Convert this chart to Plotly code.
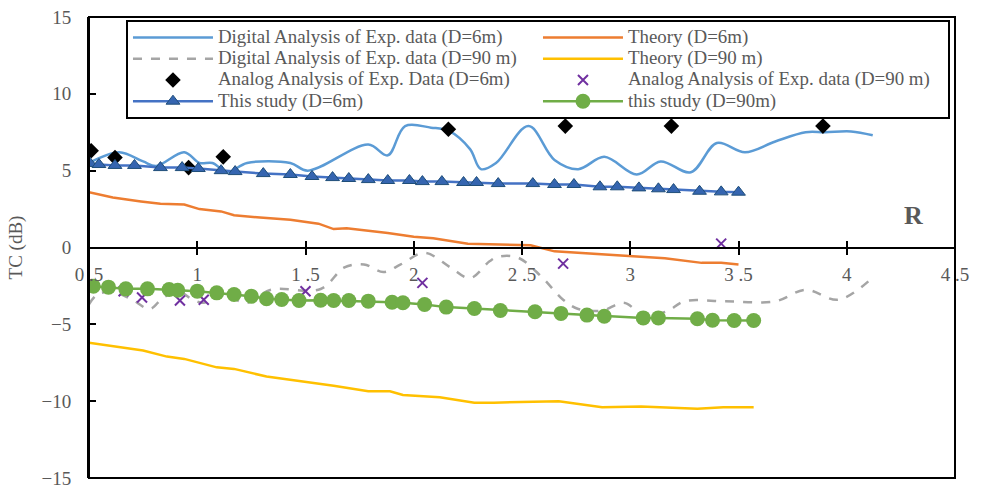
import plotly.graph_objects as go

# ---- data ----
dig6_x = [0.50, 0.64, 0.75, 0.81, 0.94, 1.01, 1.07, 1.14, 1.23, 1.43, 1.51, 1.79, 1.88, 1.96, 2.08, 2.16,
          2.26, 2.31, 2.38, 2.53, 2.65, 2.76, 2.88, 3.03, 3.14, 3.28, 3.40, 3.53, 3.67, 3.81, 3.90, 4.02, 4.12]
dig6_y = [5.5, 6.2, 5.6, 5.3, 6.2, 5.5, 5.5, 4.9, 5.5, 5.5, 5.0, 6.7, 6.0, 7.9, 7.8, 7.6,
          6.4, 5.1, 5.5, 7.9, 5.7, 5.1, 5.9, 4.75, 5.6, 4.9, 6.8, 6.2, 6.9, 7.5, 7.5, 7.55, 7.3]

th6_x = [0.50, 0.61, 0.74, 0.83, 0.94, 1.01, 1.11, 1.17, 1.29, 1.43, 1.56, 1.63, 1.69, 1.88, 2.00, 2.09,
         2.25, 2.38, 2.54, 2.65, 2.87, 3.00, 3.16, 3.33, 3.42, 3.50]
th6_y = [3.6, 3.25, 3.0, 2.85, 2.8, 2.5, 2.35, 2.1, 1.95, 1.8, 1.55, 1.2, 1.25, 0.95, 0.7, 0.6,
         0.25, 0.2, 0.15, -0.25, -0.45, -0.55, -0.7, -1.0, -1.0, -1.1]

dig90_x = [0.50, 0.54, 0.61, 0.70, 0.78, 0.84, 0.91, 0.98, 1.03, 1.11, 1.23, 1.34, 1.57, 1.68, 1.77, 1.86,
           1.94, 2.05, 2.17, 2.26, 2.35, 2.39, 2.48, 2.59, 2.69, 2.76, 2.87, 2.97, 3.06, 3.17, 3.25, 3.44,
           3.67, 3.81, 3.96, 4.10]
dig90_y = [-3.7, -3.05, -2.9, -3.4, -4.0, -3.3, -2.85, -3.4, -3.6, -3.05, -3.6, -2.75, -2.7, -1.3, -1.1, -1.6,
           -1.1, -0.35, -1.3, -2.0, -0.9, -0.6, -0.65, -1.9, -3.4, -4.0, -4.1, -3.6, -4.35, -4.15, -3.5, -3.5,
           -3.5, -2.75, -3.4, -2.2]

th90_x = [0.50, 0.61, 0.75, 0.86, 0.94, 1.09, 1.17, 1.32, 1.40, 1.51, 1.63, 1.79, 1.89, 1.95, 2.12, 2.28,
          2.37, 2.67, 2.87, 3.05, 3.31, 3.43, 3.57]
th90_y = [-6.2, -6.4, -6.7, -7.1, -7.25, -7.8, -7.9, -8.4, -8.55, -8.8, -9.0, -9.35, -9.35, -9.6, -9.75, -10.1,
          -10.1, -10.0, -10.4, -10.35, -10.5, -10.4, -10.4]

an6_x = [0.51, 0.62, 0.96, 1.12, 2.16, 2.70, 3.19, 3.89]
an6_y = [6.3, 5.85, 5.2, 5.9, 7.7, 7.9, 7.9, 7.9]

an90_x = [0.66, 0.745, 0.92, 1.03, 1.50, 2.04, 2.69, 3.42]
an90_y = [-2.85, -3.25, -3.45, -3.4, -2.85, -2.3, -1.05, 0.25]

st6_x = [0.505, 0.546, 0.62, 0.71, 0.83, 0.93, 1.005, 1.11, 1.175, 1.305, 1.43, 1.53, 1.625, 1.70, 1.79,
         1.88, 1.98, 2.04, 2.13, 2.23, 2.29, 2.39, 2.55, 2.65, 2.74, 2.86, 2.94, 3.04, 3.13, 3.20, 3.32,
         3.42, 3.50]
st6_y = [5.47, 5.40, 5.34, 5.34, 5.2, 5.2, 5.14, 5.0, 4.94, 4.81, 4.75, 4.62, 4.55, 4.49, 4.42,
         4.36, 4.36, 4.29, 4.29, 4.23, 4.23, 4.16, 4.16, 4.1, 4.1, 3.95, 3.95, 3.88, 3.82, 3.77, 3.66,
         3.62, 3.6]

st90_x = [0.52, 0.59, 0.67, 0.77, 0.87, 0.91, 1.0, 1.09, 1.17, 1.25, 1.32, 1.39, 1.47, 1.57, 1.63, 1.70,
          1.79, 1.90, 1.95, 2.05, 2.15, 2.28, 2.40, 2.56, 2.68, 2.80, 2.88, 3.06, 3.13, 3.31, 3.38, 3.48, 3.57]
st90_y = [-2.52, -2.58, -2.69, -2.69, -2.73, -2.78, -2.84, -2.95, -3.06, -3.17, -3.34, -3.38, -3.45, -3.43,
          -3.45, -3.45, -3.49, -3.56, -3.6, -3.71, -3.88, -3.97, -4.1, -4.18, -4.29, -4.4, -4.47, -4.58,
          -4.58, -4.64, -4.73, -4.75, -4.75]

x_tickvals = [0.5, 1, 1.5, 2, 2.5, 3, 3.5, 4, 4.5]
x_ticktext = ["0 .5", "1", "1 .5", "2", "2 .5", "3", "3 .5", "4", "4 .5"]
y_tickvals = [-15, -10, -5, 0, 5, 10, 15]

FONT = "Liberation Serif"
GRAY = "#595959"


def lg(name):
    return '<span style="font-size:18.9px">' + name + '</span>'


fig = go.Figure()
fig.add_trace(go.Scatter(x=dig6_x, y=dig6_y, mode="lines", line=dict(color="#5B9BD5", width=2.5, shape="spline"),
                         name=lg("Digital Analysis of Exp. data (D=6m)")))
fig.add_trace(go.Scatter(x=th6_x, y=th6_y, mode="lines", line=dict(color="#ED7D31", width=2.5),
                         name=lg("Theory (D=6m)")))
fig.add_trace(go.Scatter(x=dig90_x, y=dig90_y, mode="lines",
                         line=dict(color="#A5A5A5", width=2.5, dash="dash", shape="spline"),
                         name=lg("Digital Analysis of Exp. data (D=90 m)")))
fig.add_trace(go.Scatter(x=th90_x, y=th90_y, mode="lines", line=dict(color="#FFC000", width=2.5),
                         name=lg("Theory (D=90 m)")))
fig.add_trace(go.Scatter(x=an6_x, y=an6_y, mode="markers",
                         marker=dict(symbol="diamond", size=12, color="black"),
                         name=lg("Analog Analysis of Exp. Data (D=6m)")))
fig.add_trace(go.Scatter(x=an90_x, y=an90_y, mode="markers",
                         marker=dict(symbol="x-thin", size=10, line=dict(color="#7030A0", width=2), color="#7030A0"),
                         name=lg("Analog Analysis of Exp. data (D=90 m)")))
fig.add_trace(go.Scatter(x=st6_x, y=st6_y, mode="lines+markers", line=dict(color="#4472C4", width=2.5),
                         marker=dict(symbol="triangle-up", size=12, color="#3565B0",
                                     line=dict(color="#1F4E79", width=1)),
                         name=lg("This study (D=6m)")))
fig.add_trace(go.Scatter(x=st90_x, y=st90_y, mode="lines+markers", line=dict(color="#70AD47", width=2.5),
                         marker=dict(symbol="circle", size=15, color="#70AD47"),
                         name=lg("this study (D=90m)")))

# overlay axis to make x ticks cross the axis line
fig.add_trace(go.Scatter(x=[None], y=[None], xaxis="x2", showlegend=False, hoverinfo="skip"))

fig.update_layout(
    width=981, height=488,
    margin=dict(l=89, r=26, t=17, b=10, autoexpand=False),
    paper_bgcolor="white", plot_bgcolor="white",
    font=dict(family=FONT, size=19, color=GRAY),
    xaxis=dict(range=[0.5, 4.5], tickvals=x_tickvals, ticktext=x_ticktext,
               anchor="free", position=0.5, showline=True, linecolor="black", linewidth=2,
               ticks="inside", ticklen=6, tickwidth=2, tickcolor="black",
               showgrid=False, zeroline=False, ticklabelstandoff=10, automargin=False,
               ticklabeloverflow="allow",
               tickfont=dict(family=FONT, size=19, color=GRAY)),
    xaxis2=dict(range=[0.5, 4.5], tickvals=x_tickvals, overlaying="x", anchor="free", position=0.5,
                side="bottom", ticks="outside", ticklen=6, tickwidth=2, tickcolor="black",
                showticklabels=False, showgrid=False, zeroline=False, showline=False, automargin=False),
    yaxis=dict(range=[-15, 15], tickvals=y_tickvals, showgrid=False, zeroline=False,
               showline=True, linecolor="black", linewidth=2,
               ticks="inside", ticklen=7, tickwidth=2, tickcolor="black",
               ticklabelstandoff=12, automargin=False, ticklabeloverflow="allow",
               tickfont=dict(family=FONT, size=19, color=GRAY),
               title=dict(text="TC (dB)", font=dict(family=FONT, size=19, color=GRAY), standoff=14)),
    legend=dict(orientation="h", x=0.0427, y=0.9935, xanchor="left", yanchor="top",
                bgcolor="white", bordercolor="black", borderwidth=2,
                font=dict(family=FONT, size=14, color=GRAY),
                itemwidth=80, entrywidth=315, entrywidthmode="pixels", tracegroupgap=0),
    showlegend=True,
    shapes=[dict(type="rect", xref="paper", yref="paper", x0=0, x1=1, y0=0, y1=1,
                 line=dict(color="black", width=2), layer="above")],
    annotations=[dict(text="<b>R</b>", x=4.31, y=2.1, xref="x", yref="y", showarrow=False,
                      font=dict(family=FONT, size=26, color=GRAY))],
)

fig.write_html("out.html", config={"displayModeBar": False},
               post_script="document.body.style.margin='0';document.body.style.padding='0';")
